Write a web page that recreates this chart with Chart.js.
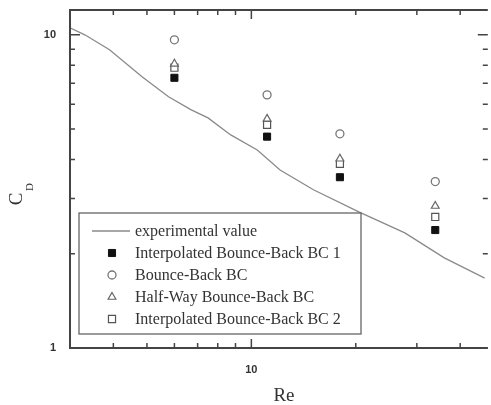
<!DOCTYPE html>
<html>
<head>
<meta charset="utf-8">
<script src="https://cdn.jsdelivr.net/npm/chart.js@4.4.0/dist/chart.umd.min.js"></script>
<style>
html, body { margin: 0; padding: 0; overflow: hidden; background: #fff; }
#wrap { width: 491px; height: 405px; }
</style>
</head>
<body>
<div id="wrap"><canvas id="cdChart" width="491" height="405"></canvas></div>
<script>
// experimental curve
const expRe = [3.0, 3.31, 3.9, 4.84, 5.77, 6.71, 7.5, 8.72, 10.4, 12.1, 15.1, 20.4, 27.7, 36.0, 47.1];
const expCd = [10.52, 10.0, 8.96, 7.34, 6.34, 5.76, 5.43, 4.79, 4.29, 3.70, 3.20, 2.72, 2.33, 1.94, 1.67];

// simulated points
const simRe = [6.0, 11.1, 18.0, 33.9];
const cdIBB1 = [7.29, 4.73, 3.51, 2.38];
const cdBB = [9.64, 6.43, 4.83, 3.40];
const cdHW = [8.08, 5.39, 4.02, 2.84];
const cdIBB2 = [7.85, 5.16, 3.87, 2.62];

const seriesNames = ['experimental value', 'Interpolated Bounce-Back BC 1', 'Bounce-Back BC',
    'Half-Way Bounce-Back BC', 'Interpolated Bounce-Back BC 2'];

// tick positions
const xMajor = [10];
const xMinor = [4, 5, 6, 7, 8, 9, 20, 30, 40];
const yMajor = [1, 10];
const yMinor = [2, 3, 4, 5, 6, 7, 8, 9];

const pts = (xs, ys) => xs.map((x, i) => ({ x: x, y: ys[i] }));

const axisColor = '#444';

// axes with inward ticks, legend box and titles
const framePlugin = {
    id: 'frame',
    afterDatasetsDraw(chart) {
        const ctx = chart.ctx;
        const a = chart.chartArea;
        const xs = chart.scales.x, ys = chart.scales.y;
        const rightAxis = a.right + 3; // right axis line falls just outside the picture
        ctx.save();
        ctx.strokeStyle = axisColor;
        ctx.lineWidth = 2;
        ctx.beginPath();
        ctx.moveTo(rightAxis, a.top); ctx.lineTo(a.left, a.top);
        ctx.lineTo(a.left, a.bottom); ctx.lineTo(rightAxis, a.bottom);
        ctx.stroke();

        ctx.lineWidth = 1.5;
        ctx.beginPath();
        const xTick = (v, len) => {
            const px = xs.getPixelForValue(v);
            ctx.moveTo(px, a.bottom); ctx.lineTo(px, a.bottom - len);
            ctx.moveTo(px, a.top); ctx.lineTo(px, a.top + len);
        };
        const yTick = (v, len) => {
            const py = ys.getPixelForValue(v);
            ctx.moveTo(a.left, py); ctx.lineTo(a.left + len, py);
            ctx.moveTo(rightAxis, py); ctx.lineTo(rightAxis - len, py);
        };
        xMajor.forEach(v => xTick(v, 9));
        xMinor.forEach(v => xTick(v, 5));
        yMajor.forEach(v => yTick(v, 10));
        yMinor.forEach(v => yTick(v, 5));
        ctx.stroke();

        // legend
        const bx = 79, by = 213, bw = 282, bh = 121;
        ctx.fillStyle = '#fff';
        ctx.fillRect(bx, by, bw, bh);
        ctx.strokeStyle = '#666';
        ctx.lineWidth = 1.3;
        ctx.strokeRect(bx, by, bw, bh);
        ctx.font = '16px "Liberation Serif", "Times New Roman", serif';
        ctx.textBaseline = 'middle';
        ctx.textAlign = 'left';
        chart.data.datasets.forEach((ds, i) => {
            const cy = 231 + i * 22;
            if (i === 0) {
                ctx.strokeStyle = ds.borderColor;
                ctx.lineWidth = ds.borderWidth;
                ctx.beginPath();
                ctx.moveTo(92, cy); ctx.lineTo(130, cy);
                ctx.stroke();
            } else {
                ctx.fillStyle = ds.backgroundColor;
                ctx.strokeStyle = ds.borderColor;
                ctx.lineWidth = ds.borderWidth;
                Chart.helpers.drawPoint(ctx, {
                    pointStyle: ds.pointStyle, radius: ds.pointRadius,
                    borderWidth: ds.borderWidth, rotation: 0
                }, 112, cy);
            }
            ctx.fillStyle = '#333';
            ctx.fillText(seriesNames[i], 135, cy + 1);
        });

        // axis titles
        ctx.fillStyle = '#333';
        ctx.font = '19px "Liberation Serif", "Times New Roman", serif';
        ctx.textAlign = 'center';
        ctx.textBaseline = 'alphabetic';
        ctx.fillText('Re', 284, 401);
        ctx.translate(22, 199);
        ctx.rotate(-Math.PI / 2);
        ctx.fillText('C', 0, 0);
        ctx.font = '11px "Liberation Serif", "Times New Roman", serif';
        ctx.fillText('D', 12, 11);
        ctx.restore();
    }
};

const tickFont = { family: 'Arial, "Liberation Sans", sans-serif', size: 11, weight: 'bold' };

// fixed box sizes, no extra label padding
const fixBox = (s, w, h) => {
    if (w) s.width = w;
    if (h) s.height = h;
    s.paddingTop = 0; s.paddingBottom = 0; s.paddingLeft = 0; s.paddingRight = 0;
};

new Chart(document.getElementById('cdChart'), {
    type: 'scatter',
    data: {
        datasets: [{
            label: seriesNames[0],
            data: pts(expRe, expCd),
            showLine: true,
            borderColor: '#8a8a8a',
            borderWidth: 1.3,
            pointRadius: 0,
            tension: 0
        }, {
            label: seriesNames[1],
            data: pts(simRe, cdIBB1),
            pointStyle: 'rect',
            pointRadius: 5,
            backgroundColor: '#111',
            borderColor: '#111',
            borderWidth: 1
        }, {
            label: seriesNames[2],
            data: pts(simRe, cdBB),
            pointStyle: 'circle',
            pointRadius: 4,
            backgroundColor: '#fff',
            borderColor: '#777',
            borderWidth: 1.3
        }, {
            label: seriesNames[3],
            data: pts(simRe, cdHW),
            pointStyle: 'triangle',
            pointRadius: 4.5,
            backgroundColor: '#fff',
            borderColor: '#666',
            borderWidth: 1.2
        }, {
            label: seriesNames[4],
            data: pts(simRe, cdIBB2),
            pointStyle: 'rect',
            pointRadius: 5,
            backgroundColor: '#fff',
            borderColor: '#555',
            borderWidth: 1.2
        }]
    },
    options: {
        responsive: false,
        animation: false,
        devicePixelRatio: 1,
        layout: { padding: { top: 10, right: 0, left: 0, bottom: 0 } },
        plugins: {
            legend: { display: false },
            tooltip: { enabled: false }
        },
        scales: {
            x: {
                type: 'logarithmic',
                min: 3,
                max: 47.1,
                grid: { display: false, drawTicks: false },
                border: { display: false },
                afterBuildTicks: s => { s.ticks = xMajor.map(v => ({ value: v })); },
                afterFit: s => fixBox(s, 0, 57),
                ticks: {
                    font: tickFont,
                    color: '#333',
                    padding: 15,
                    maxRotation: 0,
                    callback: v => String(v)
                }
            },
            y: {
                type: 'logarithmic',
                min: 1,
                max: 12,
                grid: { display: false, drawTicks: false },
                border: { display: false },
                afterBuildTicks: s => { s.ticks = yMajor.map(v => ({ value: v })); },
                afterFit: s => fixBox(s, 70, 0),
                ticks: {
                    font: tickFont,
                    color: '#333',
                    padding: 14,
                    callback: v => String(v)
                }
            }
        }
    },
    plugins: [framePlugin]
});
</script>
</body>
</html>
